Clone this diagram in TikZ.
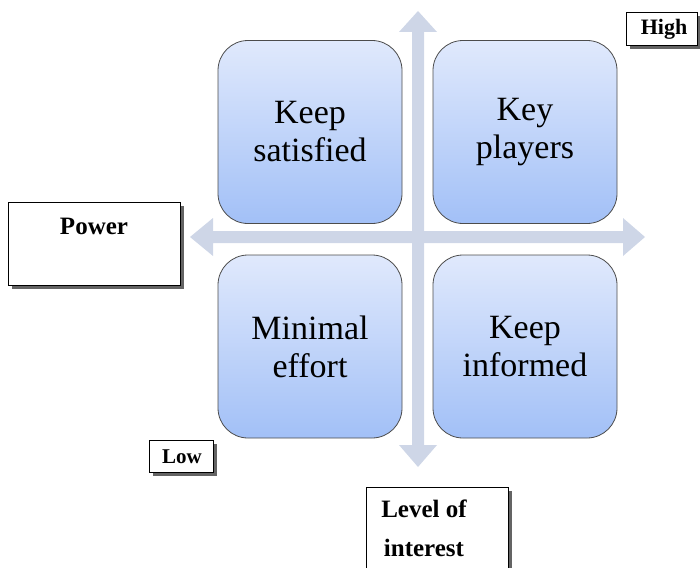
\documentclass[tikz,border=0pt]{standalone}
\usepackage{fontspec}
\setmainfont{Liberation Serif}
\begin{document}
\begin{tikzpicture}[x=1pt,y=-1pt,
  quad/.style={draw=black!70, line width=0.8pt, rounded corners=30pt, top color=blueTop, bottom color=blueBot, minimum width=184pt, minimum height=183pt, align=center, font=\fontsize{34}{38}\selectfont, inner sep=0pt},
  lbl/.style={draw=black, line width=0.8pt, fill=white},
  lbltext/.style={font=\bfseries, align=center, inner sep=0pt},
  axis/.style={fill=axisCol, draw=none}]
\definecolor{blueTop}{RGB}{224,233,252}
\definecolor{blueBot}{RGB}{162,192,247}
\definecolor{axisCol}{RGB}{206,214,231}
\definecolor{shadowCol}{RGB}{100,100,100}
\useasboundingbox (0,0) rectangle (700,567);
% axes
\fill[axis] (412,32) -- (399,32) -- (418,11) -- (437,32) -- (424,32) -- (424,445) -- (437,445) -- (418,467) -- (399,445) -- (412,445) -- cycle;
\fill[axis] (213,231) -- (213,218) -- (190,237) -- (213,256) -- (213,243) -- (623,243) -- (623,256) -- (645,237) -- (623,218) -- (623,231) -- cycle;
% quadrants
\node[quad] (ks) at (310,132) {Keep\\satisfied};
\node[quad] (kp) at (525,132) {Key\\players};
\node[quad] (me) at (310,346.5) {Minimal\\effort};
\node[quad] (ki) at (525,346.5) {Keep\\informed};
% label boxes with shadows
\fill[shadowCol] (630,16) rectangle (701,49);
\draw[lbl] (626,12) rectangle (697,45);
\node[lbltext, font=\fontsize{22}{26}\selectfont\bfseries] (high) at (664,29) {High};
\fill[shadowCol] (12,206) rectangle (184,289);
\draw[lbl] (8,202) rectangle (180,285);
\node[lbltext, font=\fontsize{25}{30}\selectfont\bfseries] (power) at (94,226) {Power};
\fill[shadowCol] (153,444) rectangle (217,476);
\draw[lbl] (149,440) rectangle (213,472);
\node[lbltext, font=\fontsize{21}{24}\selectfont\bfseries] (low) at (182,457) {Low};
\fill[shadowCol] (370,491) rectangle (512,571);
\draw[lbl] (366,487) rectangle (508,570);
\node[lbltext, font=\fontsize{25}{39}\selectfont\bfseries] (loi) at (424,528) {Level of\\interest};
\end{tikzpicture}
\end{document}
